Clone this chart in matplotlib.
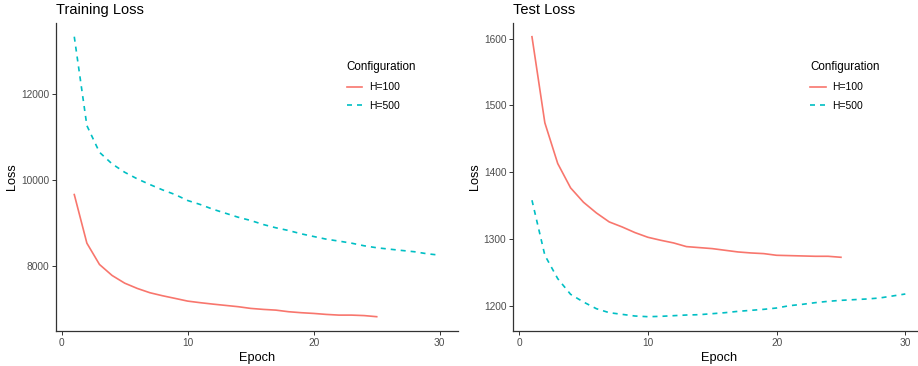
import matplotlib
matplotlib.use("Agg")
import matplotlib.pyplot as plt

plt.rcParams['font.family'] = ['Liberation Sans', 'DejaVu Sans']

# training loss per epoch
train_epochs_100 = list(range(1, 26))
train_loss_100 = [9658, 8526, 8030, 7774, 7595, 7472, 7372, 7302, 7240, 7177,
                  7140, 7107, 7077, 7047, 7007, 6984, 6967, 6930, 6907, 6890,
                  6867, 6851, 6851, 6840, 6814]
train_epochs_500 = list(range(1, 31))
train_loss_500 = [13333, 11263, 10642, 10372, 10177, 10023, 9891, 9767, 9658, 9519,
                  9426, 9316, 9223, 9130, 9054, 8960, 8884, 8821, 8744, 8681,
                  8619, 8574, 8526, 8465, 8419, 8387, 8356, 8326, 8279, 8247]

# test loss per epoch
test_epochs_100 = list(range(1, 26))
test_loss_100 = [1603, 1474, 1413, 1376.5, 1355, 1339, 1325.5, 1318, 1309.5, 1302.5,
                 1298, 1294, 1288.5, 1287, 1285.5, 1283, 1280.5, 1279, 1278, 1275.5,
                 1275, 1274.5, 1274, 1274, 1272.5]
test_epochs_500 = list(range(1, 31))
test_loss_500 = [1358, 1275.5, 1240.5, 1217, 1205.5, 1195.5, 1189.5, 1187, 1184.5, 1183.5,
                 1184, 1185, 1186, 1186.5, 1188, 1189.5, 1191.5, 1193, 1194.5, 1196.5,
                 1200, 1202, 1204.5, 1206.5, 1208, 1209, 1210, 1211.5, 1214.5, 1217.5]

labels = ["H=100", "H=500"]
colors = ["#F8766D", "#00BFC4"]

W, H = 918, 366
fig = plt.figure(figsize=(W / 100, H / 100), dpi=100)


def make_panel(rect, title, yticks, ylim, xs, ys):
    ax = fig.add_axes(rect)
    ax.plot(xs[0], ys[0], color=colors[0], lw=1.2, label=labels[0])
    ax.plot(xs[1], ys[1], color=colors[1], lw=1.2, dashes=(3, 3), label=labels[1])
    ax.set_xlim(-0.45, 31.45)
    ax.set_ylim(*ylim)
    ax.set_xticks([0, 10, 20, 30])
    ax.set_yticks(yticks)
    for s in ["top", "right"]:
        ax.spines[s].set_visible(False)
    for s in ["left", "bottom"]:
        ax.spines[s].set_color("#333333")
        ax.spines[s].set_linewidth(0.9)
    ax.tick_params(labelsize=7.3, labelcolor="#4D4D4D", color="#333333",
                   length=3, width=0.7, pad=2)
    ax.set_xlabel("Epoch", fontsize=9.2, labelpad=3)
    ax.set_ylabel("Loss", fontsize=9.2, labelpad=2)
    ax.set_title(title, fontsize=10.5, loc="left", pad=6)
    leg = ax.legend(title="Configuration", loc="upper left",
                    bbox_to_anchor=(0.70, 0.905), frameon=False, fontsize=7.5,
                    title_fontsize=8.4, handlelength=1.5, labelspacing=0.85,
                    handletextpad=0.6)
    leg._legend_box.align = "left"
    return ax


make_panel([56 / W, 1 - 330.7 / H, (458 - 56) / W, (330.7 - 22.7) / H],
           "Training Loss", [8000, 10000, 12000], (6488, 13659),
           [train_epochs_100, train_epochs_500], [train_loss_100, train_loss_500])

make_panel([513.3 / W, 1 - 330.7 / H, (924 - 513.3) / W, (330.7 - 22.7) / H],
           "Test Loss", [1200, 1300, 1400, 1500, 1600], (1162.5, 1624),
           [test_epochs_100, test_epochs_500], [test_loss_100, test_loss_500])

fig.savefig("out.png", dpi=100)
